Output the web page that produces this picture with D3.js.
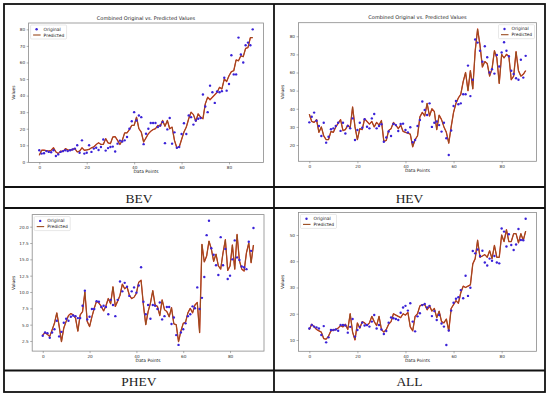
<!DOCTYPE html>
<html>
<head>
<meta charset="utf-8">
<script src="https://cdn.jsdelivr.net/npm/d3@7"></script>
<style>
  body { margin: 0; background: #fff; }
  svg { display: block; }
  .tick text { font-family: "DejaVu Sans", sans-serif; font-size: 4.2px; fill: #333; }
  .lbl { font-family: "DejaVu Sans", sans-serif; font-size: 4.4px; fill: #222; }
  .ttl { font-family: "DejaVu Sans", sans-serif; font-size: 5px; fill: #222; }
  .cap { font-family: "Liberation Serif", "Times New Roman", serif; font-size: 13.5px; fill: #222; }
</style>
</head>
<body>
<svg id="chart" width="550" height="397"></svg>
<script>
// ---- data ----
const xTicks = [0, 20, 40, 60, 80];

const bevOriginal = [7, 5, 5.2, 6.5, 6, 5.8, 7, 3.5, 4.5, 6, 6.5, 7, 6.5, 7, 7.5, 8, 10, 5.5, 13, 5,
  5.5, 10, 6, 8, 8.5, 7.2, 9, 13.5, 6.8, 8.3, 9, 9.2, 6.3, 11, 12.8, 12.3, 13, 15, 20, 24.5,
  30, 25, 28, 27, 10.7, 17, 20, 23.5, 23.5, 23.5, 21, 22, 24, 11.3, 19.6, 26.5, 11, 17.8, 8.5, 9,
  16.8, 23.3, 16.8, 28, 27, 22.5, 25, 26, 26.5, 40.7, 33.4, 30, 46, 42, 35.6, 42.5, 42, 42.7, 50.8, 43,
  47, 64.4, 52.8, 52.8, 75, 64.8, 60, 70.4, 72, 70.4, 80];
const bevPredicted = [4, 7, 7, 6.8, 6.5, 7, 8.5, 6, 5, 6.5, 6.2, 8, 7.2, 7, 7.5, 8, 6, 6.5, 8.5, 7,
  7.2, 7.5, 8.5, 9, 10.5, 11.5, 10.5, 10.5, 14, 11.5, 11, 15, 15.2, 13, 10.5, 13, 17.5, 17.5, 19.5, 22,
  22, 27, 20, 18, 12, 14.5, 17, 18.5, 19.5, 20, 22, 21.5, 25, 21.5, 25, 20, 21, 13, 8.5, 9,
  13.5, 18, 21, 26, 30, 28.5, 24.5, 29, 27, 26, 35, 39, 37.5, 39, 40.5, 42, 45, 44, 50, 48.5,
  52, 54.5, 55, 61.5, 61, 64, 63.5, 68.5, 69, 75, 75];
const bevYTicks = [0, 10, 20, 30, 40, 50, 60, 70, 80];

const hevOriginal = [32.5, 35.6, 37.9, 33.4, 30.5, 25, 32.3, 21.3, 24.6, 28.7, 29.2, 30.5, 32.3, 27.8, 32.3, 26.4, 30.5, 29.2, 34.7, 22.8,
  28.3, 32.3, 29.5, 34.2, 30.1, 29.2, 34.7, 37.1, 29.2, 30.5, 31.5, 21.8, 24.2, 27.5, 25, 31.6, 31, 27.7, 31.6, 31.8,
  28.3, 27, 29.8, 21.5, 22.8, 30.5, 33.8, 44, 39.3, 36.6, 43, 30, 32.3, 33, 31, 27.4, 32.3, 23.7, 14.5, 28,
  41.5, 44.3, 42.5, 43, 48, 48, 63.8, 47, 56, 78.2, 76.5, 72, 66, 74.5, 68.4, 60, 61.8, 59.4, 69.7, 63.3,
  71, 76.7, 72, 69, 61, 59.2, 56.8, 56, 67, 57.2, 69.2];
const hevPredicted = [37, 33, 32.5, 34, 27, 30, 25, 23, 23, 27.5, 27, 30, 32, 34, 28, 28.5, 31, 29.5, 41, 30,
  23, 29, 28.5, 34.5, 33, 31.5, 33, 30, 32.5, 31, 33.5, 22, 22.5, 28, 29, 32.5, 31, 29, 31, 27.5,
  27, 26.5, 26, 19, 23, 25, 35.5, 38, 36, 43, 36, 40, 38.5, 28.5, 36.5, 34, 30, 27, 21, 30,
  38, 43, 46, 48, 55, 60, 50, 61, 51, 72, 84, 75, 63, 66, 65, 58, 62, 72, 68, 54,
  70, 68, 70, 69, 56, 58, 71.5, 61, 58, 59, 61];
const hevYTicks = [20, 30, 40, 50, 60, 70, 80];

const phevOriginal = [3.3, 3.8, 3.7, 3.0, 3.8, 4.3, 5.6, 3.2, 3.9, 5.3, 5.9, 5.6, 6.2, 6.4, 6.3, 6.0, 6.0, 7.9, 10.2, 5.8,
  6.2, 7.4, 7.4, 8.6, 8.5, 7.7, 7.9, 7.7, 6.6, 8.8, 8.0, 6.3, 8.8, 11.6, 10.1, 11.4, 10.8, 9.4, 10.1, 10.7,
  9.9, 11.0, 13.8, 8.5, 6.6, 8.0, 5.9, 8.0, 7.9, 7.4, 8.4, 5.8, 6.3, 7.7, 7.7, 5.1, 6.1, 3.4, 1.9, 3.8,
  4.3, 5.2, 6.3, 6.6, 7.8, 7.5, 10.7, 7.4, 9.1, 12.3, 18.7, 20.9, 16.7, 15.7, 14.1, 12.6, 18.4, 14.1, 16.6, 12.0,
  12.5, 15.0, 17.9, 15.3, 14.9, 13.9, 13.8, 13.5, 17.7, 16.3, 19.8];
const phevPredicted = [3.4, 3.8, 3.5, 3.2, 4.2, 5.2, 6.8, 4.8, 2.4, 4.5, 5.5, 6.4, 6.7, 6.5, 6.0, 4.0, 6.5, 7.0, 10.0, 5.5,
  4.7, 6.2, 7.5, 8.6, 8.3, 7.8, 7.1, 7.9, 9.0, 8.2, 10.8, 7.8, 8.6, 9.5, 11.2, 10.5, 10.8, 9.5, 9.0, 9.2,
  9.8, 11.5, 11.8, 8.0, 5.0, 7.0, 8.3, 10.2, 8.0, 7.8, 6.4, 8.8, 7.3, 7.0, 6.2, 7.6, 5.1, 5.0, 2.4, 4.0,
  5.2, 5.4, 6.8, 7.5, 6.8, 8.0, 8.4, 3.8, 17.3, 14.6, 15.5, 17.8, 16.6, 14.7, 15.8, 14.0, 13.5, 16.0, 18.0, 13.3,
  14.0, 17.2, 13.5, 18.8, 14.8, 13.5, 13.2, 16.0, 17.5, 14.5, 17.2];
const phevYTicks = [2.5, 5, 7.5, 10, 12.5, 15, 17.5, 20];

const allOriginal = [14.4, 15.7, 15.1, 14.8, 14.4, 11.9, 15.3, 9.1, 11.0, 13.8, 13.8, 14.0, 13.5, 15.7, 15.7, 15.5, 12.8, 15.0, 18.0, 11.3,
  13.8, 15.0, 16.6, 15.5, 15.7, 15.1, 17.0, 19.5, 14.4, 15.7, 14.0, 12.3, 13.4, 16.6, 18.6, 18.3, 18.0, 17.6, 20.4, 22.4,
  23.0, 21.2, 24.0, 17.0, 13.3, 19.0, 20.2, 23.3, 23.7, 22.4, 23.0, 19.1, 21.0, 17.6, 19.5, 16.3, 15.1, 8.1, 13.6, 21.2,
  24.2, 25.7, 26.3, 29.0, 25.9, 34.5, 26.8, 29.9, 43.9, 43.0, 44.5, 42.0, 44.0, 39.5, 38.4, 41.0, 40.2, 42.0, 39.5, 39.2,
  52.5, 51.3, 45.6, 50.3, 46.2, 44.3, 46.4, 52.3, 48.1, 48.0, 56.2];
const allPredicted = [14, 16, 15, 14, 13.5, 13, 10.5, 10.3, 11.5, 13.5, 13.8, 14, 14.5, 15.5, 15, 16, 14, 20, 13, 10,
  16.5, 14.5, 17, 16.5, 15.5, 16.5, 19, 17, 15.5, 19, 14, 13, 14, 16, 17, 20, 19.5, 19, 18.5, 20,
  19.5, 20.5, 15, 13.5, 19, 20, 23, 23.5, 23.5, 21.5, 23, 21, 22, 18.5, 21, 17, 16.5, 18, 13.5, 22,
  23.5, 25, 24, 28, 30.5, 30, 30.5, 31, 39, 41, 48, 41.5, 42, 42.5, 41.5, 44, 41, 46, 41.5, 41.5,
  50, 47.5, 52, 47.5, 47.5, 50.5, 50.5, 47, 50.5, 48, 51.5];
const allYTicks = [10, 20, 30, 40, 50];

const captions = ['BEV', 'HEV', 'PHEV', 'ALL'];

// ---- layout ----
const svg = d3.select('#chart');
svg.append('rect').attr('width', 550).attr('height', 397).attr('fill', '#fff');

const panels = [
  { orig: bevOriginal, pred: bevPredicted, yt: bevYTicks, fmt: d3.format('d'),
    x0: 28.6, x1: 263.4, y0: 23, y1: 162.4, title: true, legend: 'left', ylx: 15 },
  { orig: hevOriginal, pred: hevPredicted, yt: hevYTicks, fmt: d3.format('d'),
    x0: 298.5, x1: 536.5, y0: 22.7, y1: 161.3, title: true, legend: 'right', ylx: 284 },
  { orig: phevOriginal, pred: phevPredicted, yt: phevYTicks, fmt: d3.format('.1f'),
    x0: 32.2, x1: 264, y0: 214.6, y1: 351.1, title: false, legend: 'left', ylx: 15 },
  { orig: allOriginal, pred: allPredicted, yt: allYTicks, fmt: d3.format('d'),
    x0: 298.5, x1: 536.5, y0: 212.4, y1: 351.3, title: false, legend: 'left', ylx: 284 }
];

panels.forEach(p => {
  const g = svg.append('g');
  const idx = d3.range(p.orig.length);
  const ext = d3.extent(p.orig.concat(p.pred));
  const pad = (ext[1] - ext[0]) * 0.05;
  const n = p.orig.length - 1;

  const x = d3.scaleLinear().domain([-n * 0.05, n * 1.05]).range([p.x0, p.x1]);
  const y = d3.scaleLinear().domain([ext[0] - pad, ext[1] + pad]).range([p.y1, p.y0]);

  // predicted line: red underneath, brown on top
  const line = d3.line().x((d, i) => x(i)).y(d => y(d));
  g.append('path').datum(p.pred).attr('d', line)
    .attr('fill', 'none').attr('stroke', '#e02a1c').attr('stroke-width', 1.3)
    .attr('stroke-linejoin', 'round');
  g.append('path').datum(p.pred).attr('d', line)
    .attr('fill', 'none').attr('stroke', '#8a5420').attr('stroke-width', 0.9)
    .attr('stroke-linejoin', 'round');

  // original points
  g.selectAll('circle.pt').data(idx).join('circle')
    .attr('class', 'pt')
    .attr('cx', i => x(i)).attr('cy', i => y(p.orig[i]))
    .attr('r', 1.2).attr('fill', '#3a22d8');

  // frame
  g.append('rect')
    .attr('x', p.x0).attr('y', p.y0)
    .attr('width', p.x1 - p.x0).attr('height', p.y1 - p.y0)
    .attr('fill', 'none').attr('stroke', '#8a8a8a').attr('stroke-width', 0.8);

  // axes
  const xa = g.append('g').attr('transform', `translate(0,${p.y1})`)
    .call(d3.axisBottom(x).tickValues(xTicks).tickSize(2).tickPadding(1.5));
  const ya = g.append('g').attr('transform', `translate(${p.x0},0)`)
    .call(d3.axisLeft(y).tickValues(p.yt).tickFormat(p.fmt).tickSize(2).tickPadding(1.5));
  [xa, ya].forEach(a => {
    a.select('.domain').remove();
    a.selectAll('.tick line').attr('stroke', '#666').attr('stroke-width', 0.5);
  });

  // labels
  g.append('text').attr('class', 'lbl')
    .attr('x', (p.x0 + p.x1) / 2).attr('y', p.y1 + 10.5)
    .attr('text-anchor', 'middle').text('Data Points');
  g.append('text').attr('class', 'lbl')
    .attr('transform', `translate(${p.ylx},${(p.y0 + p.y1) / 2}) rotate(-90)`)
    .attr('text-anchor', 'middle').text('Values');
  if (p.title) {
    g.append('text').attr('class', 'ttl')
      .attr('x', (p.x0 + p.x1) / 2).attr('y', p.y0 - 3.5)
      .attr('text-anchor', 'middle').text('Combined Original vs. Predicted Values');
  }

  // legend
  const lw = 36, lh = 14;
  const lx = p.legend === 'left' ? p.x0 + 2 : p.x1 - lw - 2;
  const lg = g.append('g').attr('transform', `translate(${lx},${p.y0 + 2})`);
  lg.append('rect').attr('width', lw).attr('height', lh).attr('rx', 1)
    .attr('fill', '#fff').attr('fill-opacity', 0.85)
    .attr('stroke', '#d0d0d0').attr('stroke-width', 0.5);
  lg.append('circle').attr('cx', 6).attr('cy', 4.3).attr('r', 1.2).attr('fill', '#3a22d8');
  lg.append('line').attr('x1', 2.5).attr('x2', 10).attr('y1', 10).attr('y2', 10)
    .attr('stroke', '#9a4a1e').attr('stroke-width', 1.1);
  lg.append('text').attr('class', 'lbl').attr('x', 13).attr('y', 5.8).text('Original');
  lg.append('text').attr('class', 'lbl').attr('x', 13).attr('y', 11.5).text('Predicted');
});

// ---- table grid ----
const grid = svg.append('g').attr('stroke', '#111').attr('stroke-width', 1.8).attr('fill', 'none');
grid.append('rect').attr('x', 4).attr('y', 4).attr('width', 541).attr('height', 388);
grid.append('line').attr('x1', 274).attr('x2', 274).attr('y1', 4).attr('y2', 392);
[187, 208, 370.5].forEach(yy => {
  grid.append('line').attr('x1', 4).attr('x2', 545).attr('y1', yy).attr('y2', yy);
});

const capPos = [[139, 202.5], [409.5, 202.5], [139, 386.2], [409.5, 386.2]];
captions.forEach((c, i) => {
  svg.append('text').attr('class', 'cap')
    .attr('x', capPos[i][0]).attr('y', capPos[i][1])
    .attr('text-anchor', 'middle').text(c);
});
</script>
</body>
</html>
